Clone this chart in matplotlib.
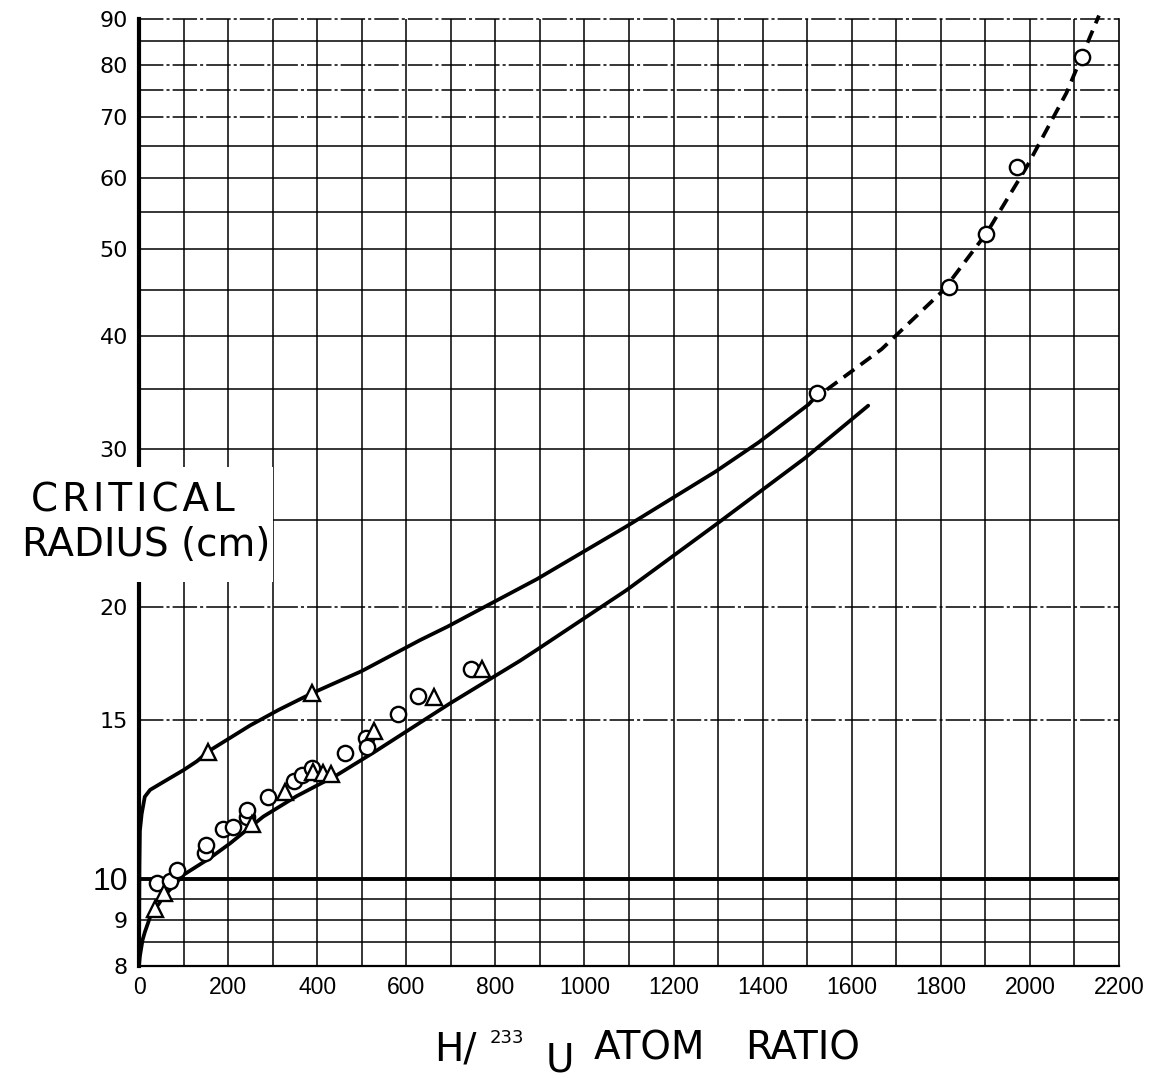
import matplotlib.pyplot as plt
from matplotlib.patches import Rectangle
from matplotlib.ticker import FixedLocator, NullLocator

# critical radius (cm) vs H/233U atom ratio

# upper solid curve
upper_x = [0, 1, 2, 6, 13, 25, 60, 100, 130, 156, 250, 314, 388, 429, 500,
           631, 693, 765, 893, 1094, 1294, 1391, 1503, 1515]
upper_y = [8.0, 10.3, 11.3, 11.8, 12.33, 12.55, 12.85, 13.2, 13.5, 13.85, 14.8,
           15.4, 16.06, 16.4, 17.0, 18.4, 19.05, 19.9, 21.5, 24.6, 28.3, 30.5,
           33.6, 34.1]

# lower solid curve
lower_x = [0, 2, 8, 13, 25, 55, 100, 159, 204, 279, 354, 444, 526, 698, 855,
           893, 1094, 1294, 1495, 1637]
lower_y = [8.0, 8.2, 8.55, 8.72, 9.07, 9.55, 10.1, 10.54, 10.94, 11.72, 12.35,
           13.03, 13.8, 15.65, 17.45, 17.95, 20.9, 24.7, 29.3, 33.5]

# dashed extension
dash_x = [1544, 1667, 1806, 1903, 1993, 2082, 2155]
dash_y = [34.9, 38.7, 45.0, 52.1, 61.7, 74.5, 90.8]

# open circles
circ_x = [41, 70, 86, 148, 150, 188, 212, 242, 243, 290, 349, 367, 388, 462,
          510, 512, 582, 627, 745, 1521, 1819, 1901, 1970, 2116]
circ_y = [9.9, 9.95, 10.22, 10.69, 10.9, 11.35, 11.42, 11.72, 11.92, 12.33,
          12.85, 13.03, 13.26, 13.79, 14.31, 14.0, 15.23, 15.95, 17.07, 34.6,
          45.4, 51.9, 61.6, 81.7]

# open triangles
tri_x = [36, 55, 156, 254, 328, 391, 414, 432, 388, 527, 662, 771]
tri_y = [9.25, 9.63, 13.83, 11.5, 12.47, 13.15, 13.1, 13.07, 16.06, 14.6,
         15.9, 17.07]

# axis ticks
xticks = list(range(0, 2201, 200))
yticks = [8, 9, 10, 15, 20, 30, 40, 50, 60, 70, 80, 90]

# graph paper lines
vgrid = list(range(100, 2200, 100))
hgrid = [8.5, 9, 9.5, 15, 20, 25, 30, 35, 40, 45, 50, 55, 60, 65, 70, 75, 80, 85]
hgrid_dashdot = [15, 20, 70, 75, 80, 90]

W, H = 1153, 1078
fig = plt.figure(figsize=(W / 100, H / 100), dpi=100)
L, R, T, B = 139, 1119, 19, 966
ax = fig.add_axes([L / W, 1 - B / H, (R - L) / W, (B - T) / H])

ax.set_yscale('log')
ax.set_xlim(0, 2200)
ax.set_ylim(8, 90)

# grid
for xv in vgrid:
    ax.axvline(xv, color='black', lw=1.1, zorder=1)
for yv in hgrid:
    ls = (0, (16, 2, 2, 2)) if yv in hgrid_dashdot else '-'
    ax.axhline(yv, color='black', lw=1.1, ls=ls, zorder=1)
ax.axhline(90, color='black', lw=1.1, ls=(0, (16, 2, 2, 2)), zorder=1, clip_on=False)
ax.axhline(10, color='black', lw=2.8, zorder=2)

# curves
ax.plot(upper_x, upper_y, color='black', lw=2.7, zorder=3, solid_capstyle='round',
        solid_joinstyle='round')
ax.plot(lower_x, lower_y, color='black', lw=2.7, zorder=3, solid_capstyle='round',
        solid_joinstyle='round')
ax.plot(dash_x, dash_y, color='black', lw=2.7, ls=(0, (3.5, 2.1)), zorder=3,
        clip_on=False)

# data points
ax.plot(circ_x, circ_y, 'o', ms=11, mfc='white', mec='black', mew=1.7, zorder=4)
ax.plot(tri_x, tri_y, '^', ms=11.5, mfc='white', mec='black', mew=1.7, zorder=4)

# spines
ax.spines['left'].set_linewidth(3)
ax.spines['bottom'].set_linewidth(1.6)
ax.spines['right'].set_linewidth(1.2)
ax.spines['top'].set_visible(False)
for s in ax.spines.values():
    s.set_zorder(5)

# ticks
ax.xaxis.set_major_locator(FixedLocator(xticks))
ax.set_xticklabels([str(v) for v in xticks], fontsize=16.5, family='Liberation Sans')
ax.yaxis.set_major_locator(FixedLocator(yticks))
ax.yaxis.set_minor_locator(NullLocator())
ax.set_yticklabels([str(v) for v in yticks], fontsize=16, family='DejaVu Sans')
ax.tick_params(axis='both', length=0)
ax.tick_params(axis='x', pad=7)
ax.tick_params(axis='y', pad=8)
for lab in ax.get_yticklabels():
    if lab.get_text() == '10':
        lab.set_fontsize(23)
        lab.set_family('Liberation Sans')

# y-axis label in a white box on top of the grid
def fx(px):
    return px / W

def fy(py):
    return 1 - py / H

fig.add_artist(Rectangle((0, fy(582)), fx(273), (582 - 467) / H, transform=fig.transFigure,
                         facecolor='white', edgecolor='none', zorder=10))
fig.text(fx(133), fy(501), '\u200a'.join('CRITICAL'), fontsize=28,
         ha='center', va='center', zorder=11)
fig.text(fx(146), fy(545), 'RADIUS (cm)', fontsize=28, ha='center', va='center', zorder=11)

# x-axis label: H/233U ATOM RATIO
fig.text(fx(434), fy(1060), 'H/', fontsize=28, ha='left', va='baseline')
fig.text(fx(490), fy(1043), '233', fontsize=13, ha='left', va='baseline')
fig.text(fx(546), fy(1071), 'U', fontsize=28, ha='left', va='baseline')
fig.text(fx(594), fy(1060), 'ATOM', fontsize=28, ha='left', va='baseline')
fig.text(fx(745), fy(1060), 'RATIO', fontsize=28, ha='left', va='baseline')

fig.savefig('out.png', dpi=100)
